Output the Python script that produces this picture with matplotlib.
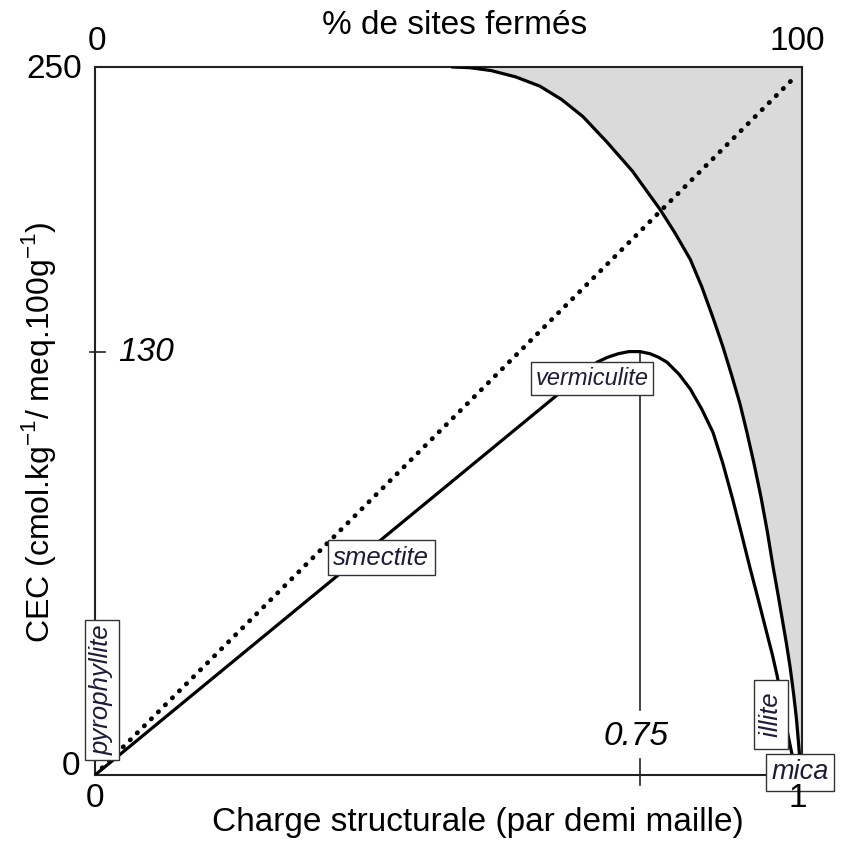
import numpy as np
import matplotlib
matplotlib.use("Agg")
import matplotlib.pyplot as plt

plt.rcParams['font.family'] = ['Liberation Sans', 'DejaVu Sans']
plt.rcParams['mathtext.fontset'] = 'custom'
plt.rcParams['mathtext.rm'] = 'Liberation Sans'

# axes are schematic: both run 0..1 (fraction of frame)
# smectite -> vermiculite -> illite curve
charge_clay = [0.0, 0.710, 0.725, 0.740, 0.755, 0.771, 0.785, 0.797, 0.809, 0.826,
               0.842, 0.858, 0.874, 0.888, 0.902, 0.914, 0.926, 0.938, 0.950, 0.958,
               0.965, 0.972, 0.979, 0.986, 0.992]
cec_clay = [0.0, 0.583, 0.590, 0.595, 0.598, 0.598, 0.595, 0.590, 0.583, 0.566,
            0.545, 0.517, 0.484, 0.440, 0.389, 0.342, 0.294, 0.248, 0.201, 0.170,
            0.139, 0.100, 0.062, 0.028, 0.0]

# maximum CEC curve (limit of the grey area)
charge_max = [0.506, 0.530, 0.560, 0.595, 0.629, 0.660, 0.690, 0.724, 0.760, 0.799,
              0.820, 0.842, 0.858, 0.874, 0.888, 0.900, 0.912, 0.922, 0.932, 0.942,
              0.951, 0.959, 0.966, 0.972, 0.978, 0.983, 0.988, 0.992, 0.995, 0.997, 1.0]
cec_max = [1.0, 0.999, 0.995, 0.986, 0.973, 0.954, 0.930, 0.894, 0.853, 0.799,
           0.766, 0.728, 0.690, 0.646, 0.605, 0.566, 0.525, 0.484, 0.440, 0.392,
           0.343, 0.294, 0.255, 0.220, 0.185, 0.153, 0.115, 0.080, 0.045, 0.021, 0.0]

# dotted diagonal (% of closed sites)
charge_diag = [0.0, 0.993]
cec_diag = [0.0, 0.989]

# marked positions and labels
x_vermi = 0.771
y_130 = 0.597
minerals = ['pyrophyllite', 'smectite', 'vermiculite', ' illite ', 'mica']
mineral_x = [0.010, 0.405, 0.703, 0.956, 0.997]
mineral_y = [0.120, 0.307, 0.560, 0.085, 0.004]
mineral_rot = [90, 0, 0, 90, 0]
mineral_size = [18.5, 18.5, 17, 18.5, 19.5]

fig = plt.figure(figsize=(8.41, 8.48), dpi=100)
ax = fig.add_axes([0.113, 0.0861, 0.8407, 0.8349])
ax.set_xlim(0, 1)
ax.set_ylim(0, 1)
ax.set_xticks([])
ax.set_yticks([])
for s in ax.spines.values():
    s.set_linewidth(1.5)
    s.set_color('#222222')

ax.fill_between(charge_max, cec_max, 1, color='#dadada', lw=0, zorder=1)
ax.plot(charge_max, cec_max, color='black', lw=2.3, zorder=3, solid_joinstyle='round')
ax.plot(charge_clay, cec_clay, color='black', lw=2.3, zorder=3, solid_joinstyle='round')
ax.plot(charge_diag, cec_diag, color='black', lw=3.4, ls=(0, (0.1, 2.0)),
        dash_capstyle='round', zorder=2)

# vertical line under the vermiculite peak
ax.plot([x_vermi, x_vermi], [0.598, 0.092], color='#222222', lw=1.2, zorder=2)
ax.plot([x_vermi, x_vermi], [0.023, -0.014], color='#222222', lw=1.2, clip_on=False)
ax.plot([-0.007, 0.014], [y_130, y_130], color='#222222', lw=1.2, clip_on=False)

for name, mx, my, rot, fs in zip(minerals, mineral_x, mineral_y, mineral_rot, mineral_size):
    ax.text(mx, my, name, rotation=rot, ha='center', va='center', style='italic',
            fontsize=fs, color='#1c1c38', zorder=5,
            bbox=dict(boxstyle='square,pad=0.2', fc='white', ec='#333333', lw=1))

ax.text(0.033, y_130, '130', style='italic', fontsize=24, ha='left', va='center')
ax.text(0.765, 0.054, '0.75', style='italic', fontsize=24, ha='center', va='center')

fig.text(0.540, 0.970, '% de sites fermés', fontsize=24, ha='center', va='center')
fig.text(0.115, 0.951, '0', fontsize=24, ha='center', va='center')
fig.text(0.948, 0.951, '100', fontsize=24, ha='center', va='center')
fig.text(0.0975, 0.918, '250', fontsize=24, ha='right', va='center')
fig.text(0.095, 0.096, '0', fontsize=24, ha='right', va='center')
fig.text(0.113, 0.058, '0', fontsize=24, ha='center', va='center')
fig.text(0.948, 0.058, '1', fontsize=24, ha='center', va='center')
fig.text(0.568, 0.030, 'Charge structurale (par demi maille)', fontsize=24,
         ha='center', va='center')
fig.text(0.046, 0.49, 'CEC (cmol.kg$^{-1}$/ meq.100g$^{-1}$)', fontsize=23,
         rotation=90, ha='center', va='center')

fig.savefig('out.png', dpi=100)
